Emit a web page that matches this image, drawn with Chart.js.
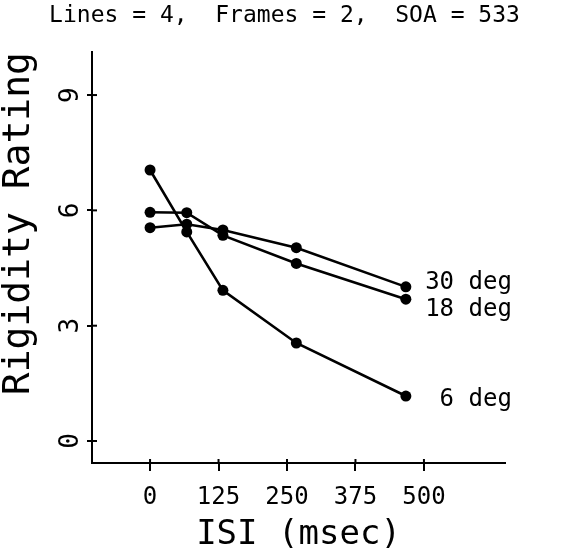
<!DOCTYPE html>
<html>
<head>
<meta charset="utf-8">
<script src="https://cdn.jsdelivr.net/npm/chart.js@4.4.0/dist/chart.umd.min.js"></script>
<style>
  html, body { margin: 0; padding: 0; background: #fff; }
  #wrap { width: 569px; height: 550px; }
</style>
</head>
<body>
<div id="wrap"><canvas id="c" width="569" height="550"></canvas></div>
<script>
// ---- data ----
const isi = [0, 67, 133, 267, 467];
const seriesNames = ["30 deg", "18 deg", "6 deg"];
const rating30 = [5.55, 5.64, 5.49, 5.03, 4.01];
const rating18 = [5.95, 5.94, 5.35, 4.62, 3.69];
const rating6  = [7.05, 5.44, 3.92, 2.55, 1.17];
const xTicks = [0, 125, 250, 375, 500];
const yTicks = [0, 3, 6, 9];
const titleText = "Lines = 4,  Frames = 2,  SOA = 533";

const MONO = "'DejaVu Sans Mono', 'Liberation Mono', monospace";

function pts(vals) { return isi.map((x, i) => ({ x: x, y: vals[i] })); }

const dsStyle = {
  borderColor: '#000', backgroundColor: '#000', borderWidth: 2.6,
  pointRadius: 5.5, pointHoverRadius: 5.5, pointBackgroundColor: '#000',
  pointBorderWidth: 0, showLine: true, tension: 0, fill: false
};

// label placement relative to last point: [dx, dy]
const labelOffsets = [[106, -4], [106, 11], [106, 4]];

const bgPlugin = {
  id: 'bg',
  beforeDraw(chart) {
    const ctx = chart.ctx;
    ctx.save(); ctx.fillStyle = '#fff';
    ctx.fillRect(0, 0, chart.width, chart.height); ctx.restore();
  }
};

const innerTicks = {
  id: 'innerTicks',
  afterDraw(chart) {
    const ctx = chart.ctx, a = chart.chartArea;
    const xs = chart.scales.x, ys = chart.scales.y;
    ctx.save(); ctx.strokeStyle = '#000'; ctx.lineWidth = 2;
    xTicks.forEach(v => {
      const px = xs.getPixelForValue(v);
      ctx.beginPath(); ctx.moveTo(px, a.bottom); ctx.lineTo(px, a.bottom - 4); ctx.stroke();
    });
    yTicks.forEach(v => {
      const py = ys.getPixelForValue(v);
      ctx.beginPath(); ctx.moveTo(a.left, py); ctx.lineTo(a.left + 5, py); ctx.stroke();
    });
    ctx.restore();
  }
};

const endLabels = {
  id: 'endLabels',
  afterDatasetsDraw(chart) {
    const ctx = chart.ctx;
    ctx.save();
    ctx.fillStyle = '#000';
    ctx.font = "24px " + MONO;
    ctx.textAlign = 'right';
    ctx.textBaseline = 'middle';
    chart.data.datasets.forEach((ds, i) => {
      const meta = chart.getDatasetMeta(i);
      const last = meta.data[meta.data.length - 1];
      ctx.fillText(ds.label, last.x + labelOffsets[i][0], last.y + labelOffsets[i][1]);
    });
    ctx.restore();
  }
};

new Chart(document.getElementById('c'), {
  type: 'scatter',
  data: {
    datasets: [
      Object.assign({ label: seriesNames[0], data: pts(rating30) }, dsStyle),
      Object.assign({ label: seriesNames[1], data: pts(rating18) }, dsStyle),
      Object.assign({ label: seriesNames[2], data: pts(rating6) }, dsStyle)
    ]
  },
  options: {
    responsive: false,
    animation: false,
    devicePixelRatio: 1,
    layout: { padding: 0 },
    plugins: {
      legend: { display: false },
      tooltip: { enabled: false },
      title: {
        display: true, text: titleText, color: '#000',
        font: { family: MONO, size: 23, weight: 'normal', lineHeight: 1.2 },
        padding: { top: 2, bottom: 22.4 }
      }
    },
    scales: {
      x: {
        type: 'linear', min: -106, max: 648,
        afterFit(s) { s.height = 87; },
        afterBuildTicks(s) { s.ticks = xTicks.map(v => ({ value: v })); },
        border: { color: '#000', width: 2 },
        grid: { display: true, drawOnChartArea: false, color: '#000', lineWidth: 2, tickLength: 8 },
        ticks: {
          color: '#000', padding: 12, maxRotation: 0, minRotation: 0,
          font: { family: MONO, size: 24 },
          callback: v => String(v)
        },
        title: {
          display: true, text: 'ISI (msec)', color: '#000',
          font: { family: MONO, size: 34, lineHeight: 0.9 },
          padding: { top: 0, bottom: 0 }
        }
      },
      y: {
        type: 'linear', min: -0.572, max: 10.12,
        afterFit(s) { s.width = 92; },
        afterBuildTicks(s) { s.ticks = yTicks.map(v => ({ value: v })); },
        border: { color: '#000', width: 2 },
        grid: { display: true, drawOnChartArea: false, color: '#000', lineWidth: 2, tickLength: 5 },
        ticks: {
          color: '#000', padding: 8, minRotation: 90, maxRotation: 90, crossAlign: 'center',
          font: { family: MONO, size: 26 },
          callback: v => String(v)
        },
        title: {
          display: true, text: 'Rigidity Rating', color: '#000', align: 'end',
          font: { family: MONO, size: 38, lineHeight: 1 },
          padding: { top: 0, bottom: 0 }
        }
      },
      spacer: {
        type: 'linear', position: 'right', display: true,
        afterFit(s) { s.width = 64; },
        border: { display: false },
        grid: { display: false },
        ticks: { display: false },
        title: { display: false }
      }
    }
  },
  plugins: [bgPlugin, innerTicks, endLabels]
});
</script>
</body>
</html>
